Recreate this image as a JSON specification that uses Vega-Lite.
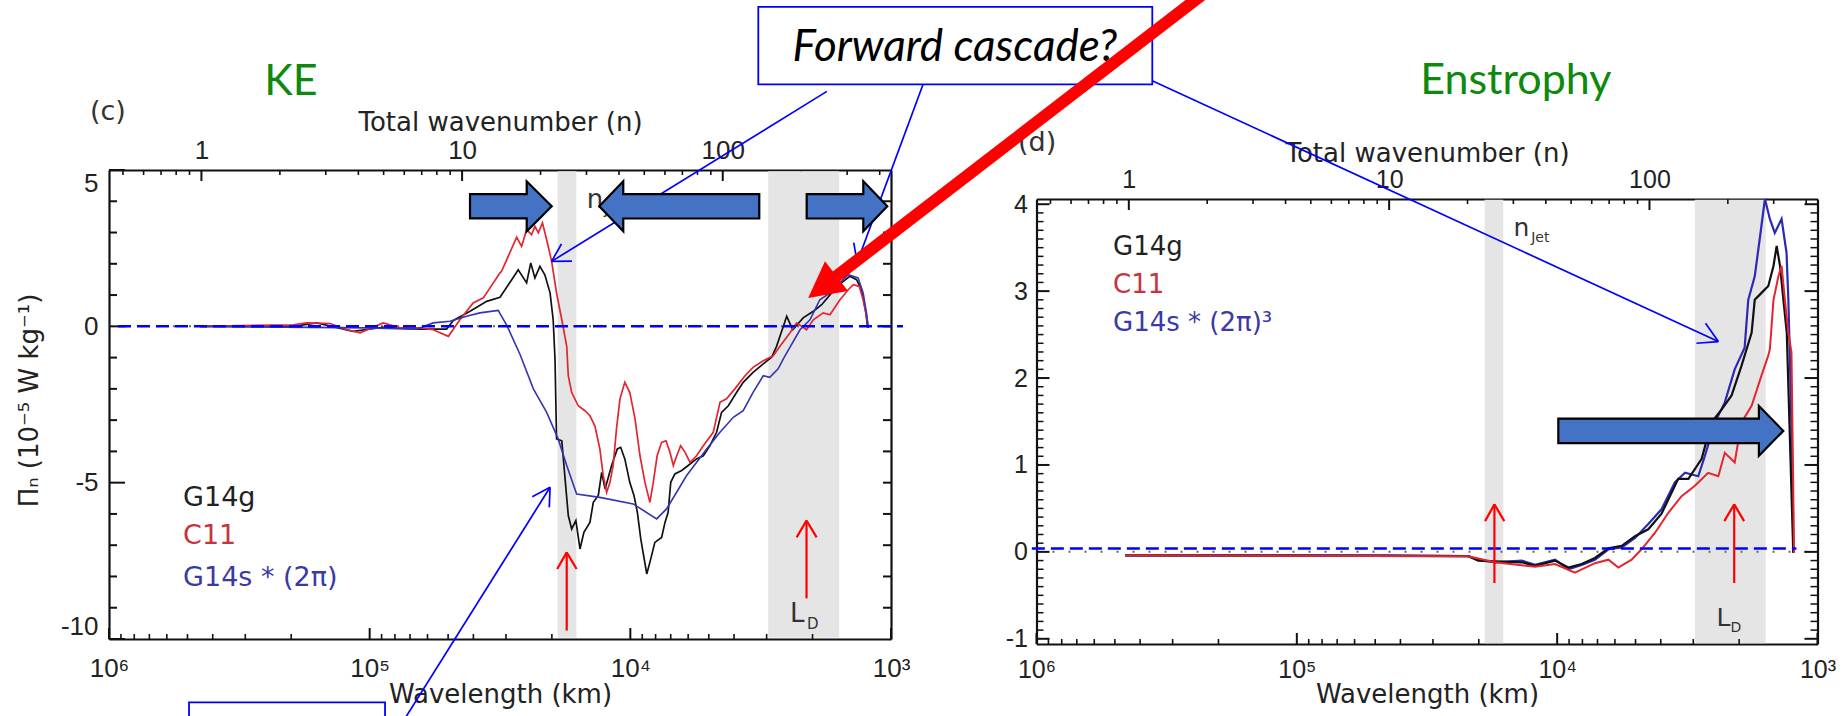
{
  "$schema": "https://vega.github.io/schema/vega-lite/v6.json",
  "width": 1842,
  "height": 716,
  "autosize": {"type": "none"},
  "padding": 0,
  "background": "white",
  "config": {
    "view": {"stroke": null},
    "axis": {"grid": false, "domainColor": "#111", "tickColor": "#111", "labelColor": "#222", "titleColor": "#222", "labelFont": "Liberation Sans", "titleFont": "DejaVu Sans", "titleFontWeight": "normal"}
  },
  "datasets": {
    "anchor": [{"wl": 10000, "n": 10, "val": 0}],
    "bands": [{"from": 16100, "to": 19000}, {"from": 1581, "to": 2958}],
    "zero_dots": [{"from": 1000000, "to": 1000, "val": 0}],
    "c_zero_dash": [{"from": 923700, "to": 899.5, "val": 0}],
    "d_zero_dash": [{"from": 1042000, "to": 1205, "val": 0.04}],
    "xt_major": [{"wl": 1000}, {"wl": 10000}, {"wl": 100000}, {"wl": 1000000}],
    "xt_minor": [{"wl": 2000}, {"wl": 3000}, {"wl": 4000}, {"wl": 5000}, {"wl": 6000}, {"wl": 7000}, {"wl": 8000}, {"wl": 9000},
      {"wl": 20000}, {"wl": 30000}, {"wl": 40000}, {"wl": 50000}, {"wl": 60000}, {"wl": 70000}, {"wl": 80000}, {"wl": 90000},
      {"wl": 200000}, {"wl": 300000}, {"wl": 400000}, {"wl": 500000}, {"wl": 600000}, {"wl": 700000}, {"wl": 800000}, {"wl": 900000}],
    "nt_major": [{"n": 1}, {"n": 10}, {"n": 100}],
    "nt_minor": [{"n": 0.5}, {"n": 0.6}, {"n": 0.7}, {"n": 0.8}, {"n": 0.9}, {"n": 2}, {"n": 3}, {"n": 4}, {"n": 5}, {"n": 6}, {"n": 7}, {"n": 8}, {"n": 9},
      {"n": 20}, {"n": 30}, {"n": 40}, {"n": 50}, {"n": 60}, {"n": 70}, {"n": 80}, {"n": 90}, {"n": 200}, {"n": 300}, {"n": 400}],
    "c_yt_major": [{"val": -10}, {"val": -5}, {"val": 0}, {"val": 5}],
    "c_yt_minor": [{"val": -9}, {"val": -8}, {"val": -7}, {"val": -6}, {"val": -4}, {"val": -3}, {"val": -2}, {"val": -1}, {"val": 1}, {"val": 2}, {"val": 3}, {"val": 4}],
    "c_yt_right": [{"val": -9}, {"val": -8}, {"val": -7}, {"val": -6}, {"val": -5}, {"val": -4}, {"val": -3}, {"val": -2}, {"val": -1}, {"val": 0}, {"val": 1}, {"val": 2}, {"val": 3}, {"val": 4}],
    "d_yt_major": [{"val": -1}, {"val": 0}, {"val": 1}, {"val": 2}, {"val": 3}, {"val": 4}],
    "d_yt_minor": [{"val": -0.9}, {"val": -0.8}, {"val": -0.7}, {"val": -0.6}, {"val": -0.5}, {"val": -0.4}, {"val": -0.3}, {"val": -0.2}, {"val": -0.1},
      {"val": 0.1}, {"val": 0.2}, {"val": 0.3}, {"val": 0.4}, {"val": 0.5}, {"val": 0.6}, {"val": 0.7}, {"val": 0.8}, {"val": 0.9},
      {"val": 1.1}, {"val": 1.2}, {"val": 1.3}, {"val": 1.4}, {"val": 1.5}, {"val": 1.6}, {"val": 1.7}, {"val": 1.8}, {"val": 1.9},
      {"val": 2.1}, {"val": 2.2}, {"val": 2.3}, {"val": 2.4}, {"val": 2.5}, {"val": 2.6}, {"val": 2.7}, {"val": 2.8}, {"val": 2.9},
      {"val": 3.1}, {"val": 3.2}, {"val": 3.3}, {"val": 3.4}, {"val": 3.5}, {"val": 3.6}, {"val": 3.7}, {"val": 3.8}, {"val": 3.9}],
    "c_g14g": [
      {"wl": 447700, "val": 0}, {"wl": 196300, "val": 0}, {"wl": 159600, "val": 0.11}, {"wl": 115600, "val": -0.16}, {"wl": 88720, "val": -0.03},
      {"wl": 66070, "val": -0.09}, {"wl": 50700, "val": -0.09}, {"wl": 47750, "val": 0.19}, {"wl": 41210, "val": 0.48}, {"wl": 35560, "val": 0.8},
      {"wl": 31620, "val": 0.93}, {"wl": 28510, "val": 1.49}, {"wl": 26920, "val": 1.81}, {"wl": 25000, "val": 1.39}, {"wl": 24100, "val": 2.03},
      {"wl": 23230, "val": 1.55}, {"wl": 22230, "val": 1.92}, {"wl": 21280, "val": 1.65}, {"wl": 20320, "val": 1.07}, {"wl": 19770, "val": 0.21},
      {"wl": 19450, "val": -1.06}, {"wl": 19190, "val": -3.6}, {"wl": 18320, "val": -3.66}, {"wl": 17660, "val": -5.2}, {"wl": 17300, "val": -6.05},
      {"wl": 16790, "val": -6.48}, {"wl": 16180, "val": -6.21}, {"wl": 15600, "val": -7.12}, {"wl": 15070, "val": -6.59}, {"wl": 14290, "val": -6.27},
      {"wl": 13870, "val": -5.63}, {"wl": 13270, "val": -5.41}, {"wl": 12880, "val": -4.67}, {"wl": 12500, "val": -5.2}, {"wl": 11800, "val": -4.45},
      {"wl": 11220, "val": -3.92}, {"wl": 10890, "val": -3.87}, {"wl": 10500, "val": -4.24}, {"wl": 10050, "val": -4.99}, {"wl": 9683, "val": -5.41},
      {"wl": 9397, "val": -5.95}, {"wl": 9120, "val": -6.8}, {"wl": 8650, "val": -7.92}, {"wl": 8414, "val": -7.55}, {"wl": 8054, "val": -6.91},
      {"wl": 7586, "val": -6.75}, {"wl": 7362, "val": -6.27}, {"wl": 7161, "val": -5.95}, {"wl": 6998, "val": -4.99}, {"wl": 6745, "val": -4.72},
      {"wl": 6353, "val": -4.61}, {"wl": 5998, "val": -4.45}, {"wl": 5572, "val": -4.24}, {"wl": 5248, "val": -4.14}, {"wl": 4955, "val": -3.82},
      {"wl": 4667, "val": -3.39}, {"wl": 4467, "val": -2.75}, {"wl": 4207, "val": -2.54}, {"wl": 3908, "val": -2.11}, {"wl": 3690, "val": -1.79},
      {"wl": 3381, "val": -1.47}, {"wl": 3090, "val": -1.2}, {"wl": 2871, "val": -0.99}, {"wl": 2748, "val": -0.64}, {"wl": 2588, "val": 0},
      {"wl": 2512, "val": 0.32}, {"wl": 2382, "val": -0.11}, {"wl": 2173, "val": 0.27}, {"wl": 1986, "val": 0.48}, {"wl": 1845, "val": 0.69},
      {"wl": 1690, "val": 1.07}, {"wl": 1549, "val": 1.39}, {"wl": 1439, "val": 1.6}, {"wl": 1355, "val": 1.49}, {"wl": 1297, "val": 1.17},
      {"wl": 1247, "val": 0.43}, {"wl": 1230, "val": -0.05}
    ],
    "c_c11": [
      {"wl": 447700, "val": 0}, {"wl": 196300, "val": 0.05}, {"wl": 174600, "val": 0.11}, {"wl": 141900, "val": 0.09}, {"wl": 122500, "val": -0.11},
      {"wl": 108900, "val": -0.21}, {"wl": 88720, "val": 0.11}, {"wl": 76560, "val": -0.05}, {"wl": 64120, "val": -0.05}, {"wl": 57020, "val": -0.11},
      {"wl": 49890, "val": -0.32}, {"wl": 45080, "val": 0.21}, {"wl": 40090, "val": 0.75}, {"wl": 36640, "val": 0.91}, {"wl": 31620, "val": 1.71},
      {"wl": 31190, "val": 1.76}, {"wl": 27290, "val": 2.85}, {"wl": 26120, "val": 2.56}, {"wl": 25000, "val": 3.09}, {"wl": 23930, "val": 2.93},
      {"wl": 23230, "val": 3.2}, {"wl": 22540, "val": 2.99}, {"wl": 21730, "val": 3.31}, {"wl": 20940, "val": 2.77}, {"wl": 20040, "val": 2.08},
      {"wl": 19190, "val": 1.07}, {"wl": 18320, "val": 0.21}, {"wl": 17540, "val": -0.64}, {"wl": 17300, "val": -1.58}, {"wl": 16790, "val": -2.11},
      {"wl": 15850, "val": -2.54}, {"wl": 14930, "val": -2.7}, {"wl": 14290, "val": -2.86}, {"wl": 13680, "val": -3.18}, {"wl": 13090, "val": -3.92},
      {"wl": 12710, "val": -4.77}, {"wl": 12330, "val": -5.31}, {"wl": 11970, "val": -4.99}, {"wl": 11640, "val": -4.45}, {"wl": 11300, "val": -3.28},
      {"wl": 10960, "val": -2.32}, {"wl": 10500, "val": -1.79}, {"wl": 10050, "val": -2.11}, {"wl": 9594, "val": -2.96}, {"wl": 9183, "val": -4.14},
      {"wl": 8790, "val": -4.99}, {"wl": 8414, "val": -5.63}, {"wl": 8166, "val": -4.99}, {"wl": 7889, "val": -4.14}, {"wl": 7586, "val": -3.71},
      {"wl": 7295, "val": -3.66}, {"wl": 7047, "val": -4.03}, {"wl": 6839, "val": -4.45}, {"wl": 6637, "val": -4.14}, {"wl": 6412, "val": -3.82},
      {"wl": 6166, "val": -4.03}, {"wl": 5902, "val": -4.35}, {"wl": 5572, "val": -4.14}, {"wl": 5248, "val": -3.82}, {"wl": 4808, "val": -3.39},
      {"wl": 4529, "val": -2.43}, {"wl": 4276, "val": -2.32}, {"wl": 3972, "val": -2.0}, {"wl": 3631, "val": -1.58}, {"wl": 3381, "val": -1.31},
      {"wl": 3090, "val": -1.1}, {"wl": 2831, "val": -0.94}, {"wl": 2667, "val": -0.64}, {"wl": 2443, "val": -0.21}, {"wl": 2301, "val": 0.11},
      {"wl": 2109, "val": -0.11}, {"wl": 1986, "val": 0.21}, {"wl": 1820, "val": 0.43}, {"wl": 1714, "val": 0.37}, {"wl": 1570, "val": 0.85},
      {"wl": 1459, "val": 1.17}, {"wl": 1396, "val": 1.33}, {"wl": 1324, "val": 1.28}, {"wl": 1279, "val": 0.85}, {"wl": 1242, "val": 0.32},
      {"wl": 1222, "val": -0.05}
    ],
    "c_g14s": [
      {"wl": 447700, "val": 0}, {"wl": 102800, "val": -0.05}, {"wl": 66070, "val": -0.09}, {"wl": 57020, "val": 0.11}, {"wl": 49200, "val": 0.16},
      {"wl": 42460, "val": 0.32}, {"wl": 37760, "val": 0.43}, {"wl": 32140, "val": 0.51}, {"wl": 29850, "val": 0.05}, {"wl": 26490, "val": -0.9},
      {"wl": 23550, "val": -2.0}, {"wl": 20940, "val": -2.75}, {"wl": 18920, "val": -3.6}, {"wl": 17540, "val": -4.45}, {"wl": 16070, "val": -5.36},
      {"wl": 13090, "val": -5.47}, {"wl": 9750, "val": -5.68}, {"wl": 7925, "val": -6.16}, {"wl": 7261, "val": -5.84}, {"wl": 6081, "val": -4.77},
      {"wl": 5093, "val": -3.92}, {"wl": 4529, "val": -3.39}, {"wl": 4027, "val": -2.91}, {"wl": 3690, "val": -2.7}, {"wl": 3381, "val": -2.11},
      {"wl": 3090, "val": -1.58}, {"wl": 2917, "val": -1.63}, {"wl": 2710, "val": -1.36}, {"wl": 2588, "val": -1.04}, {"wl": 2512, "val": -0.85},
      {"wl": 2234, "val": -0.11}, {"wl": 2046, "val": 0.21}, {"wl": 1875, "val": 0.85}, {"wl": 1714, "val": 1.07}, {"wl": 1570, "val": 1.39},
      {"wl": 1459, "val": 1.65}, {"wl": 1396, "val": 1.6}, {"wl": 1337, "val": 1.55}, {"wl": 1279, "val": 1.07}, {"wl": 1242, "val": 0.43},
      {"wl": 1222, "val": -0.05}
    ],
    "d_g14s": [
      {"wl": 457100, "val": -0.04}, {"wl": 79430, "val": -0.04}, {"wl": 44670, "val": -0.04}, {"wl": 21930, "val": -0.05}, {"wl": 20090, "val": -0.09},
      {"wl": 17340, "val": -0.12}, {"wl": 13680, "val": -0.1}, {"wl": 12160, "val": -0.15}, {"wl": 10190, "val": -0.09}, {"wl": 9057, "val": -0.2},
      {"wl": 8054, "val": -0.15}, {"wl": 7161, "val": -0.09}, {"wl": 6353, "val": 0.03}, {"wl": 5649, "val": 0.05}, {"wl": 5023, "val": 0.16},
      {"wl": 4467, "val": 0.32}, {"wl": 3972, "val": 0.49}, {"wl": 3532, "val": 0.8}, {"wl": 3228, "val": 0.91}, {"wl": 2871, "val": 0.87},
      {"wl": 2710, "val": 1.1}, {"wl": 2477, "val": 1.49}, {"wl": 2270, "val": 1.72}, {"wl": 2080, "val": 2.1}, {"wl": 1905, "val": 2.35},
      {"wl": 1845, "val": 2.9}, {"wl": 1742, "val": 3.17}, {"wl": 1667, "val": 3.6}, {"wl": 1592, "val": 4.06}, {"wl": 1524, "val": 3.83},
      {"wl": 1459, "val": 3.67}, {"wl": 1374, "val": 3.83}, {"wl": 1315, "val": 3.44}, {"wl": 1294, "val": 2.9}, {"wl": 1276, "val": 2.21},
      {"wl": 1245, "val": 0.8}, {"wl": 1239, "val": -0.01}
    ],
    "d_g14g": [
      {"wl": 457100, "val": -0.04}, {"wl": 21930, "val": -0.05}, {"wl": 20090, "val": -0.1}, {"wl": 17340, "val": -0.11}, {"wl": 13680, "val": -0.12},
      {"wl": 12160, "val": -0.16}, {"wl": 10190, "val": -0.1}, {"wl": 9057, "val": -0.18}, {"wl": 8054, "val": -0.14}, {"wl": 7161, "val": -0.07},
      {"wl": 6353, "val": 0.04}, {"wl": 5649, "val": 0.07}, {"wl": 5023, "val": 0.18}, {"wl": 4467, "val": 0.26}, {"wl": 3972, "val": 0.44},
      {"wl": 3428, "val": 0.84}, {"wl": 3133, "val": 0.84}, {"wl": 2786, "val": 1.07}, {"wl": 2553, "val": 1.49}, {"wl": 2333, "val": 1.64},
      {"wl": 2138, "val": 1.8}, {"wl": 1959, "val": 2.14}, {"wl": 1791, "val": 2.52}, {"wl": 1742, "val": 2.9}, {"wl": 1641, "val": 2.98},
      {"wl": 1545, "val": 3.06}, {"wl": 1476, "val": 3.29}, {"wl": 1435, "val": 3.52}, {"wl": 1393, "val": 3.29}, {"wl": 1352, "val": 2.9},
      {"wl": 1312, "val": 2.52}, {"wl": 1239, "val": -0.01}
    ],
    "d_c11": [
      {"wl": 457100, "val": -0.04}, {"wl": 21930, "val": -0.05}, {"wl": 17340, "val": -0.12}, {"wl": 12160, "val": -0.17}, {"wl": 10190, "val": -0.14},
      {"wl": 8551, "val": -0.24}, {"wl": 7161, "val": -0.13}, {"wl": 6353, "val": -0.09}, {"wl": 5821, "val": -0.18}, {"wl": 5176, "val": -0.09},
      {"wl": 4742, "val": 0.03}, {"wl": 4207, "val": 0.22}, {"wl": 3741, "val": 0.45}, {"wl": 3327, "val": 0.64}, {"wl": 2958, "val": 0.76},
      {"wl": 2630, "val": 0.91}, {"wl": 2404, "val": 0.87}, {"wl": 2270, "val": 1.14}, {"wl": 2080, "val": 1.03}, {"wl": 1959, "val": 1.49},
      {"wl": 1791, "val": 1.68}, {"wl": 1641, "val": 2.03}, {"wl": 1545, "val": 2.26}, {"wl": 1524, "val": 2.33}, {"wl": 1476, "val": 2.9},
      {"wl": 1413, "val": 3.17}, {"wl": 1374, "val": 3.29}, {"wl": 1334, "val": 2.9}, {"wl": 1294, "val": 2.52}, {"wl": 1259, "val": 2.3},
      {"wl": 1230, "val": -0.01}
    ],
    "c_red_arrows": [
      {"wl": 17540, "val": -9.73, "wl2": 17540, "val2": -7.23}, {"wl": 17540, "val": -7.23, "wl2": 19080, "val2": -7.76}, {"wl": 17540, "val": -7.23, "wl2": 16070, "val2": -7.76},
      {"wl": 2109, "val": -8.7, "wl2": 2109, "val2": -6.21}, {"wl": 2109, "val": -6.21, "wl2": 2301, "val2": -6.75}, {"wl": 2109, "val": -6.21, "wl2": 1929, "val2": -6.75}
    ],
    "d_red_arrows": [
      {"wl": 17420, "val": -0.358, "wl2": 17420, "val2": 0.547}, {"wl": 17420, "val": 0.547, "wl2": 18920, "val2": 0.354}, {"wl": 17420, "val": 0.547, "wl2": 15960, "val2": 0.354},
      {"wl": 2089, "val": -0.358, "wl2": 2089, "val2": 0.547}, {"wl": 2089, "val": 0.547, "wl2": 2280, "val2": 0.354}, {"wl": 2089, "val": 0.547, "wl2": 1914, "val2": 0.354}
    ],
    "c_blue_lines": [
      {"wl": 1762, "val": 7.515, "wl2": 20040, "val2": 2.078}, {"wl": 20040, "val": 2.078, "wl2": 16750, "val2": 2.088}, {"wl": 20040, "val": 2.078, "wl2": 18380, "val2": 2.632},
      {"wl": 752.5, "val": 7.752, "wl2": 1348, "val2": 2.047}, {"wl": 1348, "val": 2.047, "wl2": 1178, "val2": 2.456}, {"wl": 1348, "val": 2.047, "wl2": 1390, "val2": 2.677},
      {"wl": 76560, "val": -12.8, "wl2": 20320, "val2": -5.149}, {"wl": 20320, "val": -5.149, "wl2": 23780, "val2": -5.449}, {"wl": 20320, "val": -5.149, "wl2": 20460, "val2": -5.79}
    ],
    "d_blue_lines": [
      {"wl": 359400, "val": 5.421, "wl2": 2404, "val2": 2.42}, {"wl": 2404, "val": 2.42, "wl2": 2692, "val2": 2.63}, {"wl": 2404, "val": 2.42, "wl2": 2917, "val2": 2.4}
    ],
    "c_boxes": [
      {"wl": 3229, "wl2": 99.45, "val": 10.22, "val2": 7.74},
      {"wl": 493200, "wl2": 87300, "val": -12.03, "val2": -13.6}
    ],
    "c_red_big": [{"wl": 60.35, "val": 10.77, "wl2": 1676, "val2": 1.506}],
    "c_red_head": [{"wl": 1834, "val": 1.257}]
  },
  "layer": [
    {
      "layer": [
        {
          "data": {"name": "bands"},
          "mark": {"type": "rect", "color": "#e5e5e5"},
          "encoding": {
            "x": {"field": "from", "type": "quantitative", "scale": {"type": "log", "domain": [1000, 1000000], "range": [1817.5, 1036.5], "nice": false}, "axis": null},
            "x2": {"field": "to"},
            "y": {"datum": -1.05, "type": "quantitative", "scale": {"type": "linear", "domain": [-1.06, 4.06], "range": [644, 199], "nice": false, "zero": false}, "axis": null},
            "y2": {"datum": 4.05}
          }
        },
        {
          "data": {"name": "zero_dots"},
          "mark": {"type": "rule", "color": "#666", "strokeWidth": 2, "strokeDash": [2, 14]},
          "encoding": {"x": {"field": "from", "type": "quantitative", "axis": null}, "x2": {"field": "to"}, "y": {"field": "val", "type": "quantitative", "axis": null}}
        },
        {
          "data": {"name": "xt_major"},
          "mark": {"type": "tick", "orient": "vertical", "size": 11, "thickness": 2, "color": "#111", "opacity": 1, "yOffset": -5.5},
          "encoding": {"x": {"field": "wl", "type": "quantitative", "axis": null}, "y": {"datum": -1.06, "type": "quantitative", "axis": null}}
        },
        {
          "data": {"name": "xt_minor"},
          "mark": {"type": "tick", "orient": "vertical", "size": 5, "thickness": 1.6, "color": "#111", "opacity": 1, "yOffset": -2.5},
          "encoding": {"x": {"field": "wl", "type": "quantitative", "axis": null}, "y": {"datum": -1.06, "type": "quantitative", "axis": null}}
        },
        {
          "data": {"name": "d_yt_major"},
          "mark": {"type": "tick", "orient": "horizontal", "size": 13, "thickness": 2, "color": "#111", "opacity": 1, "xOffset": 6.5},
          "encoding": {"x": {"datum": 1000000, "type": "quantitative", "axis": null}, "y": {"field": "val", "type": "quantitative", "axis": null}}
        },
        {
          "data": {"name": "d_yt_minor"},
          "mark": {"type": "tick", "orient": "horizontal", "size": 7, "thickness": 1.5, "color": "#111", "opacity": 1, "xOffset": 3.5},
          "encoding": {"x": {"datum": 1000000, "type": "quantitative", "axis": null}, "y": {"field": "val", "type": "quantitative", "axis": null}}
        },
        {
          "data": {"name": "d_yt_major"},
          "mark": {"type": "tick", "orient": "horizontal", "size": 13, "thickness": 2, "color": "#111", "opacity": 1, "xOffset": -6.5},
          "encoding": {"x": {"datum": 1000, "type": "quantitative", "axis": null}, "y": {"field": "val", "type": "quantitative", "axis": null}}
        },
        {
          "data": {"name": "d_yt_minor"},
          "mark": {"type": "tick", "orient": "horizontal", "size": 7, "thickness": 1.5, "color": "#111", "opacity": 1, "xOffset": -3.5},
          "encoding": {"x": {"datum": 1000, "type": "quantitative", "axis": null}, "y": {"field": "val", "type": "quantitative", "axis": null}}
        },
        {
          "data": {"name": "d_g14s"},
          "mark": {"type": "line", "color": "#2a2ab4", "strokeWidth": 2.2},
          "encoding": {"x": {"field": "wl", "type": "quantitative", "axis": null}, "y": {"field": "val", "type": "quantitative", "axis": null}}
        },
        {
          "data": {"name": "d_g14g"},
          "mark": {"type": "line", "color": "#111111", "strokeWidth": 2.2},
          "encoding": {"x": {"field": "wl", "type": "quantitative", "axis": null}, "y": {"field": "val", "type": "quantitative", "axis": null}}
        },
        {
          "data": {"name": "d_c11"},
          "mark": {"type": "line", "color": "#e32530", "strokeWidth": 2},
          "encoding": {"x": {"field": "wl", "type": "quantitative", "axis": null}, "y": {"field": "val", "type": "quantitative", "axis": null}}
        },
        {
          "data": {"name": "d_zero_dash"},
          "mark": {"type": "rule", "color": "#0000ff", "strokeWidth": 2.5, "strokeDash": [13, 6]},
          "encoding": {"x": {"field": "from", "type": "quantitative", "axis": null}, "x2": {"field": "to"}, "y": {"field": "val", "type": "quantitative", "axis": null}}
        },
        {
          "data": {"values": [{"label": "(d)", "wl": 1178000, "val": 4.61}]},
          "mark": {"type": "text", "align": "left", "baseline": "alphabetic", "font": "DejaVu Sans", "fontSize": 27, "color": "#333"},
          "encoding": {"x": {"field": "wl", "type": "quantitative", "axis": null}, "y": {"field": "val", "type": "quantitative", "axis": null}, "text": {"field": "label"}}
        },
        {
          "data": {"values": [{"label": "Enstrophy", "wl": 14420, "val": 5.267}]},
          "mark": {"type": "text", "align": "center", "baseline": "alphabetic", "font": "Lato", "fontSize": 43, "color": "#0d8a0d"},
          "encoding": {"x": {"field": "wl", "type": "quantitative", "axis": null}, "y": {"field": "val", "type": "quantitative", "axis": null}, "text": {"field": "label"}}
        },
        {
          "data": {"values": [{"label": "G14g", "wl": 508200, "val": 3.42}]},
          "mark": {"type": "text", "align": "left", "baseline": "alphabetic", "font": "DejaVu Sans", "fontSize": 26, "color": "#222"},
          "encoding": {"x": {"field": "wl", "type": "quantitative", "axis": null}, "y": {"field": "val", "type": "quantitative", "axis": null}, "text": {"field": "label"}}
        },
        {
          "data": {"values": [{"label": "C11", "wl": 508200, "val": 2.98}]},
          "mark": {"type": "text", "align": "left", "baseline": "alphabetic", "font": "DejaVu Sans", "fontSize": 26, "color": "#c8323c"},
          "encoding": {"x": {"field": "wl", "type": "quantitative", "axis": null}, "y": {"field": "val", "type": "quantitative", "axis": null}, "text": {"field": "label"}}
        },
        {
          "data": {"values": [{"label": "G14s * (2π)³", "wl": 508200, "val": 2.54}]},
          "mark": {"type": "text", "align": "left", "baseline": "alphabetic", "font": "DejaVu Sans", "fontSize": 26, "color": "#3a3aa6"},
          "encoding": {"x": {"field": "wl", "type": "quantitative", "axis": null}, "y": {"field": "val", "type": "quantitative", "axis": null}, "text": {"field": "label"}}
        },
        {
          "data": {"values": [{"label": "n", "wl": 14720, "val": 3.633}, {"label": "L", "wl": 2443, "val": -0.857}]},
          "mark": {"type": "text", "align": "left", "baseline": "alphabetic", "font": "DejaVu Sans", "fontSize": 25, "color": "#333"},
          "encoding": {"x": {"field": "wl", "type": "quantitative", "axis": null}, "y": {"field": "val", "type": "quantitative", "axis": null}, "text": {"field": "label"}}
        },
        {
          "data": {"values": [{"label": "Jet", "wl": 12580, "val": 3.56}, {"label": "D", "wl": 2160, "val": -0.926}]},
          "mark": {"type": "text", "align": "left", "baseline": "alphabetic", "font": "DejaVu Sans", "fontSize": 14, "color": "#333"},
          "encoding": {"x": {"field": "wl", "type": "quantitative", "axis": null}, "y": {"field": "val", "type": "quantitative", "axis": null}, "text": {"field": "label"}}
        },
        {
          "data": {"name": "d_red_arrows"},
          "mark": {"type": "rule", "color": "#ff0000", "strokeWidth": 2.2},
          "encoding": {"x": {"field": "wl", "type": "quantitative", "axis": null}, "y": {"field": "val", "type": "quantitative", "axis": null}, "x2": {"field": "wl2"}, "y2": {"field": "val2"}}
        },
        {
          "data": {"name": "d_blue_lines"},
          "mark": {"type": "rule", "color": "#0000ff", "strokeWidth": 1.7},
          "encoding": {"x": {"field": "wl", "type": "quantitative", "axis": null}, "y": {"field": "val", "type": "quantitative", "axis": null}, "x2": {"field": "wl2"}, "y2": {"field": "val2"}}
        },
        {
          "data": {"values": [{"wl": 3660, "val": 1.392}]},
          "mark": {"type": "point", "shape": "M-1,-0.109L0.783,-0.109L0.783,-0.222L1,0L0.783,0.222L0.783,0.109L-1,0.109Z", "size": 50625, "filled": true, "fill": "#4472c4", "stroke": "#000000", "strokeWidth": 2.2, "strokeJoin": "miter", "opacity": 1, "fillOpacity": 1},
          "encoding": {"x": {"field": "wl", "type": "quantitative", "axis": null}, "y": {"field": "val", "type": "quantitative", "axis": null}}
        }
      ]
    },
    {
      "data": {"name": "anchor"},
      "mark": {"type": "point", "opacity": 0},
      "encoding": {
        "x": {"field": "wl", "type": "quantitative", "scale": {"type": "log", "domain": [1000, 1000000], "range": [1817.5, 1036.5], "nice": false},
          "axis": {"orient": "bottom", "offset": -72, "values": [1000, 10000, 100000, 1000000], "ticks": false, "domain": true, "domainWidth": 2.2,
            "labelExpr": "datum.value > 500000 ? '10⁶' : datum.value > 50000 ? '10⁵' : datum.value > 5000 ? '10⁴' : '10³'",
            "labelFontSize": 25, "labelBaseline": "alphabetic", "labelPadding": 33, "labelFlush": false, "labelOverlap": false,
            "title": "Wavelength (km)", "titleFontSize": 26, "titleY": 58, "titleBaseline": "alphabetic"}},
        "y": {"field": "val", "type": "quantitative", "scale": {"type": "linear", "domain": [-1.06, 4.06], "range": [644, 199], "nice": false, "zero": false},
          "axis": {"orient": "left", "offset": -1036.5, "values": [-1, 0, 1, 2, 3, 4], "ticks": false, "domain": true, "domainWidth": 2.2,
            "labelExpr": "datum.value + ''", "labelFontSize": 25, "labelPadding": 9, "labelFlush": false, "labelOverlap": false, "title": null}}
      }
    },
    {
      "data": {"name": "anchor"},
      "mark": {"type": "point", "opacity": 0},
      "encoding": {
        "x": {"field": "n", "type": "quantitative", "scale": {"type": "log", "domain": [0.442, 442], "range": [1036.5, 1817.5], "nice": false},
          "axis": {"orient": "top", "offset": -199, "values": [1, 10, 100], "ticks": false, "domain": true, "domainWidth": 2.2,
            "labelExpr": "datum.value < 5 ? '1' : datum.value < 50 ? '10' : '100'", "labelFontSize": 25, "labelBaseline": "alphabetic", "labelPadding": 12, "labelFlush": false, "labelOverlap": false,
            "title": "Total wavenumber (n)", "titleFontSize": 26, "titleY": -38, "titleBaseline": "alphabetic"}},
        "y": {"field": "val", "type": "quantitative", "scale": {"type": "linear", "domain": [-1.06, 4.06], "range": [644, 199], "nice": false, "zero": false},
          "axis": {"orient": "right", "offset": -24.5, "values": [-1, 0, 1, 2, 3, 4], "ticks": false, "labels": false, "domain": true, "domainWidth": 2.2, "title": null}}
      }
    },
    {
      "layer": [
        {
          "data": {"name": "nt_major"},
          "mark": {"type": "tick", "orient": "vertical", "size": 11, "thickness": 2, "color": "#111", "opacity": 1, "yOffset": 5.5},
          "encoding": {
            "x": {"field": "n", "type": "quantitative", "scale": {"type": "log", "domain": [0.442, 442], "range": [1036.5, 1817.5], "nice": false}, "axis": null},
            "y": {"datum": 4.06, "type": "quantitative", "scale": {"type": "linear", "domain": [-1.06, 4.06], "range": [644, 199], "nice": false, "zero": false}, "axis": null}
          }
        },
        {
          "data": {"name": "nt_minor"},
          "mark": {"type": "tick", "orient": "vertical", "size": 5, "thickness": 1.6, "color": "#111", "opacity": 1, "yOffset": 2.5},
          "encoding": {"x": {"field": "n", "type": "quantitative", "axis": null}, "y": {"datum": 4.06, "type": "quantitative", "axis": null}}
        }
      ]
    },
    {
      "data": {"name": "anchor"},
      "mark": {"type": "point", "opacity": 0},
      "encoding": {
        "x": {"field": "wl", "type": "quantitative", "scale": {"type": "log", "domain": [1000, 1000000], "range": [891, 109], "nice": false},
          "axis": {"orient": "bottom", "offset": -77, "values": [1000, 10000, 100000, 1000000], "ticks": false, "domain": true, "domainWidth": 2.2,
            "labelExpr": "datum.value > 500000 ? '10⁶' : datum.value > 50000 ? '10⁵' : datum.value > 5000 ? '10⁴' : '10³'",
            "labelFontSize": 26, "labelBaseline": "alphabetic", "labelPadding": 37, "labelFlush": false, "labelOverlap": false,
            "title": "Wavelength (km)", "titleFontSize": 26, "titleY": 63, "titleBaseline": "alphabetic"}},
        "y": {"field": "val", "type": "quantitative", "scale": {"type": "linear", "domain": [-10, 5], "range": [639, 170], "nice": false, "zero": false},
          "axis": {"orient": "left", "offset": -109, "values": [-10, -5, 0, 5], "ticks": false, "domain": true, "domainWidth": 2.2,
            "labelExpr": "datum.value + ''", "labelFontSize": 26, "labelPadding": 11, "labelFlush": true, "labelOverlap": false,
            "title": "Πₙ (10⁻⁵ W kg⁻¹)", "titleFontSize": 26, "titleAngle": -90, "titleX": -72, "titleY": 400, "titleAlign": "center", "titleBaseline": "alphabetic"}}
      }
    },
    {
      "data": {"name": "anchor"},
      "mark": {"type": "point", "opacity": 0},
      "encoding": {
        "x": {"field": "n", "type": "quantitative", "scale": {"type": "log", "domain": [0.442, 442], "range": [109, 891], "nice": false},
          "axis": {"orient": "top", "offset": -170, "values": [1, 10, 100], "ticks": false, "domain": true, "domainWidth": 2.2,
            "labelExpr": "datum.value < 5 ? '1' : datum.value < 50 ? '10' : '100'", "labelFontSize": 26, "labelBaseline": "alphabetic", "labelPadding": 12, "labelFlush": false, "labelOverlap": false,
            "title": "Total wavenumber (n)", "titleFontSize": 26, "titleY": -40, "titleBaseline": "alphabetic"}},
        "y": {"field": "val", "type": "quantitative", "scale": {"type": "linear", "domain": [-10, 5], "range": [639, 170], "nice": false, "zero": false},
          "axis": {"orient": "right", "offset": -951, "values": [-10, -5, 0, 5], "ticks": false, "labels": false, "domain": true, "domainWidth": 2.2, "title": null}}
      }
    },
    {
      "layer": [
        {
          "data": {"name": "nt_major"},
          "mark": {"type": "tick", "orient": "vertical", "size": 11, "thickness": 2, "color": "#111", "opacity": 1, "yOffset": 5.5},
          "encoding": {
            "x": {"field": "n", "type": "quantitative", "scale": {"type": "log", "domain": [0.442, 442], "range": [109, 891], "nice": false}, "axis": null},
            "y": {"datum": 5, "type": "quantitative", "scale": {"type": "linear", "domain": [-10, 5], "range": [639, 170], "nice": false, "zero": false}, "axis": null}
          }
        },
        {
          "data": {"name": "nt_minor"},
          "mark": {"type": "tick", "orient": "vertical", "size": 5, "thickness": 1.6, "color": "#111", "opacity": 1, "yOffset": 2.5},
          "encoding": {"x": {"field": "n", "type": "quantitative", "axis": null}, "y": {"datum": 5, "type": "quantitative", "axis": null}}
        }
      ]
    },
    {
      "layer": [
        {
          "data": {"name": "bands"},
          "mark": {"type": "rect", "color": "#e5e5e5"},
          "encoding": {
            "x": {"field": "from", "type": "quantitative", "scale": {"type": "log", "domain": [1000, 1000000], "range": [891, 109], "nice": false}, "axis": null},
            "x2": {"field": "to"},
            "y": {"datum": -9.96, "type": "quantitative", "scale": {"type": "linear", "domain": [-10, 5], "range": [639, 170], "nice": false, "zero": false}, "axis": null},
            "y2": {"datum": 4.96}
          }
        },
        {
          "data": {"name": "zero_dots"},
          "mark": {"type": "rule", "color": "#666", "strokeWidth": 2, "strokeDash": [2, 14]},
          "encoding": {"x": {"field": "from", "type": "quantitative", "axis": null}, "x2": {"field": "to"}, "y": {"field": "val", "type": "quantitative", "axis": null}}
        },
        {
          "data": {"name": "xt_major"},
          "mark": {"type": "tick", "orient": "vertical", "size": 11, "thickness": 2, "color": "#111", "opacity": 1, "yOffset": -5.5},
          "encoding": {"x": {"field": "wl", "type": "quantitative", "axis": null}, "y": {"datum": -10, "type": "quantitative", "axis": null}}
        },
        {
          "data": {"name": "xt_minor"},
          "mark": {"type": "tick", "orient": "vertical", "size": 5, "thickness": 1.6, "color": "#111", "opacity": 1, "yOffset": -2.5},
          "encoding": {"x": {"field": "wl", "type": "quantitative", "axis": null}, "y": {"datum": -10, "type": "quantitative", "axis": null}}
        },
        {
          "data": {"name": "c_yt_major"},
          "mark": {"type": "tick", "orient": "horizontal", "size": 16, "thickness": 2, "color": "#111", "opacity": 1, "xOffset": 8},
          "encoding": {"x": {"datum": 1000000, "type": "quantitative", "axis": null}, "y": {"field": "val", "type": "quantitative", "axis": null}}
        },
        {
          "data": {"name": "c_yt_minor"},
          "mark": {"type": "tick", "orient": "horizontal", "size": 8, "thickness": 2, "color": "#111", "opacity": 1, "xOffset": 4},
          "encoding": {"x": {"datum": 1000000, "type": "quantitative", "axis": null}, "y": {"field": "val", "type": "quantitative", "axis": null}}
        },
        {
          "data": {"name": "c_yt_right"},
          "mark": {"type": "tick", "orient": "horizontal", "size": 8, "thickness": 2, "color": "#111", "opacity": 1, "xOffset": -4},
          "encoding": {"x": {"datum": 1000, "type": "quantitative", "axis": null}, "y": {"field": "val", "type": "quantitative", "axis": null}}
        },
        {
          "data": {"name": "c_g14g"},
          "mark": {"type": "line", "color": "#111111", "strokeWidth": 1.7},
          "encoding": {"x": {"field": "wl", "type": "quantitative", "axis": null}, "y": {"field": "val", "type": "quantitative", "axis": null}}
        },
        {
          "data": {"name": "c_c11"},
          "mark": {"type": "line", "color": "#e32530", "strokeWidth": 1.7},
          "encoding": {"x": {"field": "wl", "type": "quantitative", "axis": null}, "y": {"field": "val", "type": "quantitative", "axis": null}}
        },
        {
          "data": {"name": "c_g14s"},
          "mark": {"type": "line", "color": "#3434b4", "strokeWidth": 1.6},
          "encoding": {"x": {"field": "wl", "type": "quantitative", "axis": null}, "y": {"field": "val", "type": "quantitative", "axis": null}}
        },
        {
          "data": {"name": "c_zero_dash"},
          "mark": {"type": "rule", "color": "#0000ff", "strokeWidth": 2.5, "strokeDash": [13, 6]},
          "encoding": {"x": {"field": "from", "type": "quantitative", "axis": null}, "x2": {"field": "to"}, "y": {"field": "val", "type": "quantitative", "axis": null}}
        },
        {
          "data": {"values": [{"label": "(c)", "wl": 1183000, "val": 6.61}]},
          "mark": {"type": "text", "align": "left", "baseline": "alphabetic", "font": "DejaVu Sans", "fontSize": 27, "color": "#333"},
          "encoding": {"x": {"field": "wl", "type": "quantitative", "axis": null}, "y": {"field": "val", "type": "quantitative", "axis": null}, "text": {"field": "label"}}
        },
        {
          "data": {"values": [{"label": "KE", "wl": 200400, "val": 7.41}]},
          "mark": {"type": "text", "align": "center", "baseline": "alphabetic", "font": "Lato", "fontSize": 43, "color": "#0d8a0d"},
          "encoding": {"x": {"field": "wl", "type": "quantitative", "axis": null}, "y": {"field": "val", "type": "quantitative", "axis": null}, "text": {"field": "label"}}
        },
        {
          "data": {"values": [{"label": "G14g", "wl": 520000, "val": -5.734}]},
          "mark": {"type": "text", "align": "left", "baseline": "alphabetic", "font": "DejaVu Sans", "fontSize": 27, "color": "#222"},
          "encoding": {"x": {"field": "wl", "type": "quantitative", "axis": null}, "y": {"field": "val", "type": "quantitative", "axis": null}, "text": {"field": "label"}}
        },
        {
          "data": {"values": [{"label": "C11", "wl": 520000, "val": -6.95}]},
          "mark": {"type": "text", "align": "left", "baseline": "alphabetic", "font": "DejaVu Sans", "fontSize": 27, "color": "#c8323c"},
          "encoding": {"x": {"field": "wl", "type": "quantitative", "axis": null}, "y": {"field": "val", "type": "quantitative", "axis": null}, "text": {"field": "label"}}
        },
        {
          "data": {"values": [{"label": "G14s * (2π)", "wl": 520000, "val": -8.29}]},
          "mark": {"type": "text", "align": "left", "baseline": "alphabetic", "font": "DejaVu Sans", "fontSize": 27, "color": "#3a3aa6"},
          "encoding": {"x": {"field": "wl", "type": "quantitative", "axis": null}, "y": {"field": "val", "type": "quantitative", "axis": null}, "text": {"field": "label"}}
        },
        {
          "data": {"values": [{"label": "n", "wl": 14680, "val": 3.8}, {"label": "L", "wl": 2443, "val": -9.466}]},
          "mark": {"type": "text", "align": "left", "baseline": "alphabetic", "font": "DejaVu Sans", "fontSize": 26, "color": "#333"},
          "encoding": {"x": {"field": "wl", "type": "quantitative", "axis": null}, "y": {"field": "val", "type": "quantitative", "axis": null}, "text": {"field": "label"}}
        },
        {
          "data": {"values": [{"label": "Jet", "wl": 12600, "val": 3.6}, {"label": "D", "wl": 2100, "val": -9.67}]},
          "mark": {"type": "text", "align": "left", "baseline": "alphabetic", "font": "DejaVu Sans", "fontSize": 15, "color": "#333"},
          "encoding": {"x": {"field": "wl", "type": "quantitative", "axis": null}, "y": {"field": "val", "type": "quantitative", "axis": null}, "text": {"field": "label"}}
        },
        {
          "data": {"name": "c_red_arrows"},
          "mark": {"type": "rule", "color": "#ff0000", "strokeWidth": 2.2},
          "encoding": {"x": {"field": "wl", "type": "quantitative", "axis": null}, "y": {"field": "val", "type": "quantitative", "axis": null}, "x2": {"field": "wl2"}, "y2": {"field": "val2"}}
        },
        {
          "data": {"name": "c_blue_lines"},
          "mark": {"type": "rule", "color": "#0000ff", "strokeWidth": 1.7},
          "encoding": {"x": {"field": "wl", "type": "quantitative", "axis": null}, "y": {"field": "val", "type": "quantitative", "axis": null}, "x2": {"field": "wl2"}, "y2": {"field": "val2"}}
        },
        {
          "data": {"values": [{"wl": 28730, "val": 3.838}]},
          "mark": {"type": "point", "shape": "M-1,-0.297L0.388,-0.297L0.388,-0.612L1,0L0.388,0.612L0.388,0.297L-1,0.297Z", "size": 6675, "filled": true, "fill": "#4472c4", "stroke": "#000000", "strokeWidth": 2.2, "strokeJoin": "miter", "opacity": 1, "fillOpacity": 1},
          "encoding": {"x": {"field": "wl", "type": "quantitative", "axis": null}, "y": {"field": "val", "type": "quantitative", "axis": null}}
        },
        {
          "data": {"values": [{"wl": 6490, "val": 3.838}]},
          "mark": {"type": "point", "shape": "M1,-0.152L-0.7,-0.152L-0.7,-0.3125L-1,0L-0.7,0.3125L-0.7,0.152L1,0.152Z", "size": 25600, "filled": true, "fill": "#4472c4", "stroke": "#000000", "strokeWidth": 2.2, "strokeJoin": "miter", "opacity": 1, "fillOpacity": 1},
          "encoding": {"x": {"field": "wl", "type": "quantitative", "axis": null}, "y": {"field": "val", "type": "quantitative", "axis": null}}
        },
        {
          "data": {"values": [{"wl": 1475, "val": 3.838}]},
          "mark": {"type": "point", "shape": "M-1,-0.3015L0.404,-0.3015L0.404,-0.62L1,0L0.404,0.62L0.404,0.3015L-1,0.3015Z", "size": 6496, "filled": true, "fill": "#4472c4", "stroke": "#000000", "strokeWidth": 2.2, "strokeJoin": "miter", "opacity": 1, "fillOpacity": 1},
          "encoding": {"x": {"field": "wl", "type": "quantitative", "axis": null}, "y": {"field": "val", "type": "quantitative", "axis": null}}
        },
        {
          "data": {"name": "c_boxes"},
          "mark": {"type": "rect", "fill": "#ffffff", "stroke": "#0000ff", "strokeWidth": 1.8},
          "encoding": {"x": {"field": "wl", "type": "quantitative", "axis": null}, "x2": {"field": "wl2"}, "y": {"field": "val", "type": "quantitative", "axis": null}, "y2": {"field": "val2"}}
        },
        {
          "data": {"values": [{"label": "Forward cascade?", "wl": 568.9, "val": 8.475}]},
          "mark": {"type": "text", "align": "center", "baseline": "alphabetic", "font": "Lato", "fontStyle": "italic", "fontSize": 44, "color": "#000000"},
          "encoding": {"x": {"field": "wl", "type": "quantitative", "axis": null}, "y": {"field": "val", "type": "quantitative", "axis": null}, "text": {"field": "label"}}
        },
        {
          "data": {"name": "c_red_big"},
          "mark": {"type": "rule", "color": "#ff0000", "strokeWidth": 12, "strokeCap": "butt"},
          "encoding": {"x": {"field": "wl", "type": "quantitative", "axis": null}, "y": {"field": "val", "type": "quantitative", "axis": null}, "x2": {"field": "wl2"}, "y2": {"field": "val2"}}
        },
        {
          "data": {"name": "c_red_head"},
          "mark": {"type": "point", "shape": "M1,0L-1,-1.056L-1,1.056Z", "size": 1274, "angle": 142.42, "filled": true, "fill": "#ff0000", "strokeWidth": 0, "opacity": 1, "fillOpacity": 1},
          "encoding": {"x": {"field": "wl", "type": "quantitative", "axis": null}, "y": {"field": "val", "type": "quantitative", "axis": null}}
        }
      ]
    }
  ],
  "resolve": {"scale": {"x": "independent", "y": "independent"}, "axis": {"x": "independent", "y": "independent"}}
}
